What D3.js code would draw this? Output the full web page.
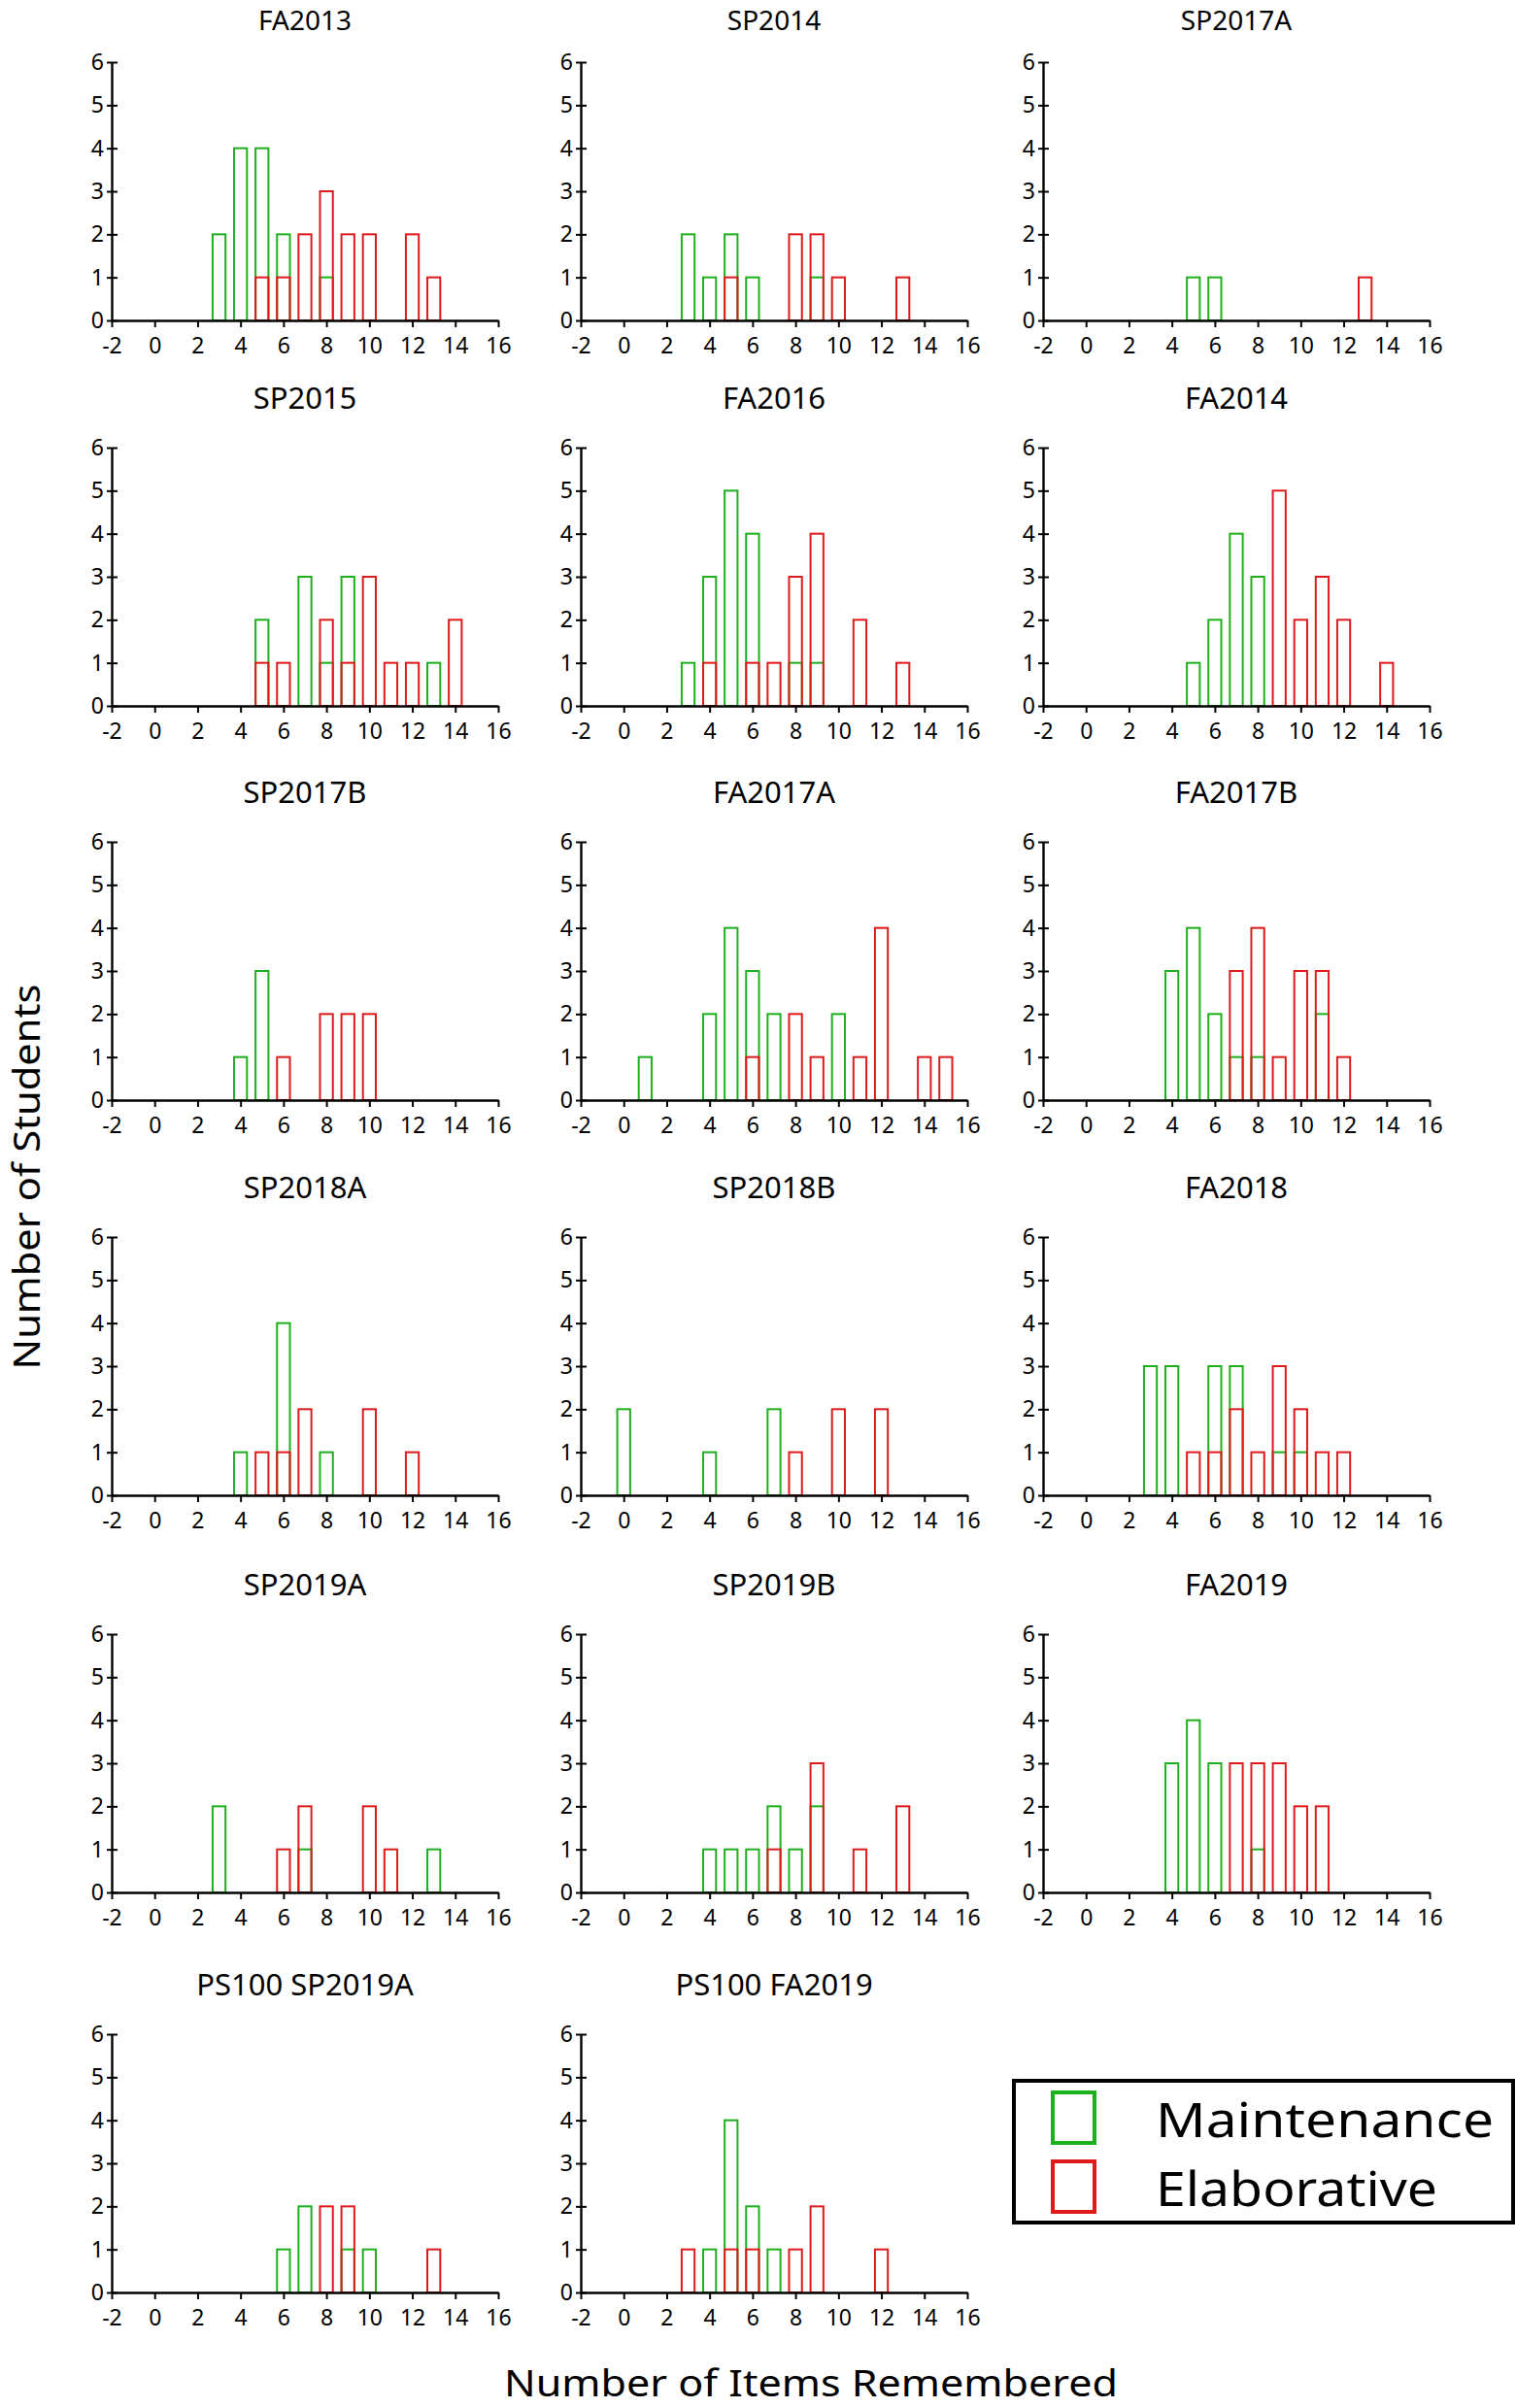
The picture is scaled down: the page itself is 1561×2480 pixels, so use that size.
<!DOCTYPE html>
<html>
<head>
<meta charset="utf-8">
<script src="https://cdn.jsdelivr.net/npm/d3@7"></script>
<style>
  html, body { margin: 0; padding: 0; background: #fff; }
  svg { display: block; }
  text { font-family: "Noto Sans", "DejaVu Sans", sans-serif; fill: #000; }
</style>
</head>
<body>
<script>
// ---------------- DATA ----------------
const panelTitles = [
  "FA2013", "SP2014", "SP2017A",
  "SP2015", "FA2016", "FA2014",
  "SP2017B", "FA2017A", "FA2017B",
  "SP2018A", "SP2018B", "FA2018",
  "SP2019A", "SP2019B", "FA2019",
  "PS100 SP2019A", "PS100 FA2019"
];
// number of items remembered (x categories)
const itemValues = [0, 1, 2, 3, 4, 5, 6, 7, 8, 9, 10, 11, 12, 13, 14, 15];
// counts of students per item value, one row per panel
const maintenanceCounts = [
  [0,0,0,2,4,4,2,0,1,0,0,0,0,0,0,0],
  [0,0,0,2,1,2,1,0,0,1,0,0,0,0,0,0],
  [0,0,0,0,0,1,1,0,0,0,0,0,0,0,0,0],
  [0,0,0,0,0,2,0,3,1,3,0,0,0,1,0,0],
  [0,0,0,1,3,5,4,0,1,1,0,0,0,0,0,0],
  [0,0,0,0,0,1,2,4,3,0,0,0,0,0,0,0],
  [0,0,0,0,1,3,0,0,0,0,0,0,0,0,0,0],
  [0,1,0,0,2,4,3,2,0,0,2,0,0,0,0,0],
  [0,0,0,0,3,4,2,1,1,0,0,2,0,0,0,0],
  [0,0,0,0,1,0,4,0,1,0,0,0,0,0,0,0],
  [2,0,0,0,1,0,0,2,0,0,0,0,0,0,0,0],
  [0,0,0,3,3,0,3,3,0,1,1,0,0,0,0,0],
  [0,0,0,2,0,0,0,1,0,0,0,0,0,1,0,0],
  [0,0,0,0,1,1,1,2,1,2,0,0,0,0,0,0],
  [0,0,0,0,3,4,3,0,1,0,0,0,0,0,0,0],
  [0,0,0,0,0,0,1,2,0,1,1,0,0,0,0,0],
  [0,0,0,0,1,4,2,1,0,0,0,0,0,0,0,0]
];
const elaborativeCounts = [
  [0,0,0,0,0,1,1,2,3,2,2,0,2,1,0,0],
  [0,0,0,0,0,1,0,0,2,2,1,0,0,1,0,0],
  [0,0,0,0,0,0,0,0,0,0,0,0,0,1,0,0],
  [0,0,0,0,0,1,1,0,2,1,3,1,1,0,2,0],
  [0,0,0,0,1,0,1,1,3,4,0,2,0,1,0,0],
  [0,0,0,0,0,0,0,0,0,5,2,3,2,0,1,0],
  [0,0,0,0,0,0,1,0,2,2,2,0,0,0,0,0],
  [0,0,0,0,0,0,1,0,2,1,0,1,4,0,1,1],
  [0,0,0,0,0,0,0,3,4,1,3,3,1,0,0,0],
  [0,0,0,0,0,1,1,2,0,0,2,0,1,0,0,0],
  [0,0,0,0,0,0,0,0,1,0,2,0,2,0,0,0],
  [0,0,0,0,0,1,1,2,1,3,2,1,1,0,0,0],
  [0,0,0,0,0,0,1,2,0,0,2,1,0,0,0,0],
  [0,0,0,0,0,0,0,1,0,3,0,1,0,2,0,0],
  [0,0,0,0,0,0,0,3,3,3,2,2,0,0,0,0],
  [0,0,0,0,0,0,0,0,2,2,0,0,0,1,0,0],
  [0,0,0,1,0,1,1,0,1,2,0,0,1,0,0,0]
];
const xTickValues = [-2, 0, 2, 4, 6, 8, 10, 12, 14, 16];
const yTickValues = [0, 1, 2, 3, 4, 5, 6];
const seriesNames = ["Maintenance", "Elaborative"];
const seriesColors = ["#1cb01c", "#e01a1a"];
const xAxisTitle = "Number of Items Remembered";
const yAxisTitle = "Number of Students";

// ---------------- LAYOUT ----------------
const W = 1561, H = 2480;
const colX = [115, 598, 1074];
const rowTop = [64, 461, 867, 1274, 1683, 2095];
const plotW = 398, plotH = 266;
const barWidthUnits = 0.6;

const svg = d3.select("body").append("svg")
  .attr("width", W).attr("height", H)
  .attr("viewBox", `0 0 ${W} ${H}`);
svg.append("rect").attr("width", W).attr("height", H).attr("fill", "#fff");

const x = d3.scaleLinear().domain([-2, 16]).range([0, plotW]);
const y = d3.scaleLinear().domain([0, 6]).range([plotH, 0]);
const bw = x(barWidthUnits) - x(0);
const fmt = d => String(d);

panelTitles.forEach((title, i) => {
  const r = Math.floor(i / 3), c = i % 3;
  const g = svg.append("g").attr("transform", `translate(${colX[c]},${rowTop[r]})`);

  g.append("text")
    .attr("x", plotW / 2).attr("y", r === 0 ? -33 : -40)
    .attr("text-anchor", "middle")
    .attr("font-size", r === 0 ? 28 : 31)
    .text(title);

  const series = [maintenanceCounts[i], elaborativeCounts[i]];
  series.forEach((counts, s) => {
    const data = itemValues.map((v, k) => ({ v, n: counts[k] })).filter(d => d.n > 0);
    g.append("g").selectAll("rect").data(data).join("rect")
      .attr("x", d => x(d.v) - bw / 2)
      .attr("y", d => y(d.n))
      .attr("width", bw)
      .attr("height", d => y(0) - y(d.n))
      .attr("fill", "none")
      .attr("stroke", seriesColors[s])
      .attr("stroke-width", 2);
  });

  // x axis
  const xa = g.append("g").attr("transform", `translate(0,${plotH})`)
    .call(d3.axisBottom(x).tickValues(xTickValues).tickSize(7).tickSizeOuter(0).tickPadding(11).tickFormat(fmt));
  xa.select(".domain").attr("stroke", "#000").attr("stroke-width", 2.6);
  xa.selectAll(".tick line").attr("stroke", "#000").attr("stroke-width", 2);
  xa.selectAll(".tick text").attr("font-size", 23).attr("font-family", "\"Noto Sans\", sans-serif").attr("fill", "#000");

  // y axis
  const ya = g.append("g")
    .call(d3.axisLeft(y).tickValues(yTickValues).tickSize(5).tickSizeOuter(0).tickPadding(3).tickFormat(fmt));
  ya.select(".domain").attr("stroke", "#000").attr("stroke-width", 2.4);
  ya.selectAll(".tick line").attr("x1", 6).attr("x2", -5).attr("stroke", "#000").attr("stroke-width", 2);
  ya.selectAll(".tick text").attr("font-size", 23).attr("font-family", "\"Noto Sans\", sans-serif").attr("fill", "#000");
});

// axis titles
svg.append("text")
  .attr("x", 835).attr("y", 2468)
  .attr("text-anchor", "middle")
  .attr("font-size", 38)
  .attr("textLength", 632).attr("lengthAdjust", "spacingAndGlyphs")
  .text(xAxisTitle);

svg.append("text")
  .attr("transform", "translate(41,1212) rotate(-90)")
  .attr("text-anchor", "middle")
  .attr("font-size", 38)
  .attr("textLength", 397).attr("lengthAdjust", "spacingAndGlyphs")
  .text(yAxisTitle);

// legend
const lg = svg.append("g");
lg.append("rect")
  .attr("x", 1044).attr("y", 2143).attr("width", 514).attr("height", 146)
  .attr("fill", "#fff").attr("stroke", "#000").attr("stroke-width", 4);
const legendRowY = [2155, 2226];
const legendTextLen = [348, 290];
seriesNames.forEach((name, s) => {
  lg.append("rect")
    .attr("x", 1084).attr("y", legendRowY[s]).attr("width", 43).attr("height", 52)
    .attr("fill", "none").attr("stroke", seriesColors[s]).attr("stroke-width", 4);
  lg.append("text")
    .attr("x", 1190).attr("y", legendRowY[s] + 46)
    .attr("font-size", 50)
    .attr("textLength", legendTextLen[s]).attr("lengthAdjust", "spacingAndGlyphs")
    .text(name);
});
</script>
</body>
</html>
